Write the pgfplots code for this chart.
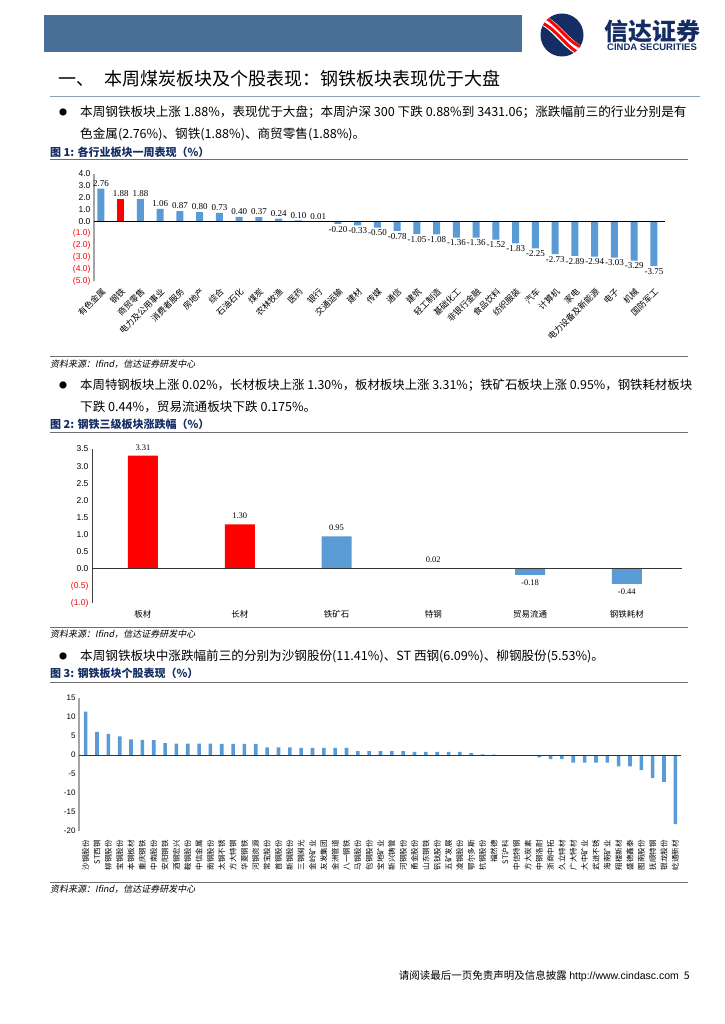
\documentclass[border=0pt]{standalone}
\usepackage{fontspec}
\usepackage{pgfplots}
\pgfplotsset{compat=1.18}
\setmainfont{Liberation Serif}
\newfontfamily\cjk{Noto Sans CJK SC}
\newfontfamily\cjki[FakeSlant=0.2]{Noto Sans CJK SC}
\newfontfamily\arial{Liberation Sans}
\definecolor{hdr}{RGB}{74,111,150}
\definecolor{barblue}{RGB}{91,155,213}
\definecolor{navy}{RGB}{20,45,100}
\definecolor{rulegray}{RGB}{110,110,110}
\definecolor{axgray}{RGB}{165,165,165}
\definecolor{hrule}{RGB}{140,160,185}
\newcommand{\fs}[1]{\fontsize{#1}{#1}\selectfont}
\pgfplotsset{
  pagechart/.style={
    scale only axis, clip=false, anchor=south west,
    axis y line*=left, axis x line*=bottom,
    x axis line style={draw=none},
    xtick style={draw=none}, ytick style={draw=none},
    ybar, bar shift=0pt,
    /pgf/number format/assume math mode=true,
  }
}
\begin{document}
\begin{tikzpicture}
\begin{scope}[x=1pt,y=-1pt]
\path[fill=white,use as bounding box] (0,0) rectangle (724,1024);
% header
\fill[hdr] (44,15) rectangle (522,52);
\fill[navy] (562,35) circle (21.5);
\begin{scope}
\clip (562,35) circle (21.5);
\draw[white, line width=10pt] (536,19) .. controls (555,19) and (568,53) .. (590,53);
\draw[red, line width=3pt] (536,15) .. controls (555,15) and (568,49) .. (590,49);
\draw[red, line width=3pt] (536,22) .. controls (555,22) and (568,56) .. (590,56);
\end{scope}
\node[anchor=center, text=navy, font=\cjk\fs{24}\bfseries] at (652,31) {信达证券};
\node[anchor=center, text=navy, font=\arial\fs{9.5}\bfseries] at (652,47) {CINDA SECURITIES};
% heading
\node[anchor=west, font=\cjk\fs{18}, inner sep=0pt] at (58,79) {一、\hspace{10pt}本周煤炭板块及个股表现：钢铁板块表现优于大盘};
\draw[hrule, line width=0.8pt] (50,96) -- (700,96);
% bullet 1
\node[font=\cjk\fs{8}] at (63,112) {●};
\node[anchor=west, inner sep=0pt, font=\cjk\fs{12.6}] at (80,112) {本周钢铁板块上涨 1.88\%，表现优于大盘；本周沪深 300 下跌 0.88\%到 3431.06；涨跌幅前三的行业分别是有};
\node[anchor=west, inner sep=0pt, font=\cjk\fs{12.6}] at (80,134) {色金属(2.76\%)、钢铁(1.88\%)、商贸零售(1.88\%)。};
% figure 1
\node[anchor=west, inner sep=0pt, text=navy, font=\cjk\fs{11}\bfseries] at (50,152) {图 1: 各行业板块一周表现（\%）};
\draw[rulegray, line width=1pt] (50,160) -- (688,160);
\draw[rulegray, line width=1pt] (50,356) -- (688,356);
\node[anchor=west, inner sep=0pt, font=\cjki\fs{9}] at (50,364) {资料来源：Ifind，信达证券研发中心};
% bullet 2
\node[font=\cjk\fs{8}] at (63,385) {●};
\node[anchor=west, inner sep=0pt, font=\cjk\fs{12.4}] at (80,385) {本周特钢板块上涨 0.02\%，长材板块上涨 1.30\%，板材板块上涨 3.31\%；铁矿石板块上涨 0.95\%，钢铁耗材板块};
\node[anchor=west, inner sep=0pt, font=\cjk\fs{12.6}] at (80,407) {下跌 0.44\%，贸易流通板块下跌 0.175\%。};
% figure 2
\node[anchor=west, inner sep=0pt, text=navy, font=\cjk\fs{11}\bfseries] at (50,424) {图 2: 钢铁三级板块涨跌幅（\%）};
\draw[rulegray, line width=1pt] (50,432) -- (688,432);
\draw[rulegray, line width=1pt] (50,627) -- (688,627);
\node[anchor=west, inner sep=0pt, font=\cjki\fs{9}] at (50,634) {资料来源：Ifind，信达证券研发中心};
% bullet 3
\node[font=\cjk\fs{8}] at (63,656) {●};
\node[anchor=west, inner sep=0pt, font=\cjk\fs{12.6}] at (80,656) {本周钢铁板块中涨跌幅前三的分别为沙钢股份(11.41\%)、ST 西钢(6.09\%)、柳钢股份(5.53\%)。};
% figure 3
\node[anchor=west, inner sep=0pt, text=navy, font=\cjk\fs{11}\bfseries] at (50,673) {图 3: 钢铁板块个股表现（\%）};
\draw[rulegray, line width=1pt] (50,682) -- (688,682);
\draw[rulegray, line width=1pt] (50,882) -- (688,882);
\node[anchor=west, inner sep=0pt, font=\cjki\fs{9}] at (50,889) {资料来源：Ifind，信达证券研发中心};
% footer
\node[anchor=east, inner sep=0pt, font=\cjk\fs{10.5}] at (690,976) {请阅读最后一页免责声明及信息披露 {\arial http://www.cindasc.com}\hspace{5pt}5};
\end{scope}

\begin{axis}[pagechart, at={(94pt,-281pt)}, width=571pt, height=107pt,
  xmin=-0.35, xmax=28.56, ymin=-5, ymax=4, bar width=7pt,
  y axis line style={-, draw=axgray, line width=1.2pt},
  ytick={-5,-4,-3,-2,-1,0,1,2,3,4},
  yticklabels={\textcolor{red}{(5.0)},\textcolor{red}{(4.0)},\textcolor{red}{(3.0)},\textcolor{red}{(2.0)},\textcolor{red}{(1.0)},0.0,1.0,2.0,3.0,4.0},
  yticklabel style={font=\arial\fs{8.5}},
  xtick={0,...,28},
  xticklabels={有色金属,钢铁,商贸零售,电力及公用事业,消费者服务,房地产,综合,石油石化,煤炭,农林牧渔,医药,银行,交通运输,建材,传媒,通信,建筑,轻工制造,基础化工,非银行金融,食品饮料,纺织服装,汽车,计算机,家电,电力设备及新能源,电子,机械,国防军工},
  xticklabel style={font=\cjk\fs{8.5}, rotate=45, anchor=north east, inner sep=1.5pt},
  nodes near coords={\pgfmathprintnumber[fixed,fixed zerofill,precision=2]{\pgfplotspointmeta}},
  nodes near coords style={font=\fs{9}, inner sep=2pt},
]
\addplot[fill=barblue, draw=none] coordinates {
(0,2.76) (2,1.88) (3,1.06) (4,0.87) (5,0.80) (6,0.73) (7,0.40) (8,0.37) (9,0.24) (10,0.10) (11,0.01)
(12,-0.20) (13,-0.33) (14,-0.50) (15,-0.78) (16,-1.05) (17,-1.08) (18,-1.36) (19,-1.36) (20,-1.52)
(21,-1.83) (22,-2.25) (23,-2.73) (24,-2.89) (25,-2.94) (26,-3.03) (27,-3.29) (28,-3.75)};
\addplot[fill=red, draw=none] coordinates {(1,1.88)};
\draw[black, line width=1pt] (axis cs:-0.35,0) -- (axis cs:28.56,0);
\end{axis}

\begin{axis}[pagechart, at={(92pt,-603pt)}, width=590pt, height=154pt,
  xmin=-0.527, xmax=5.57, ymin=-1, ymax=3.5, bar width=30pt,
  y axis line style={-, draw=black!75, line width=0.8pt},
  ytick={-1,-0.5,0,0.5,1,1.5,2,2.5,3,3.5},
  yticklabels={\textcolor{red}{(1.0)},\textcolor{red}{(0.5)},0.0,0.5,1.0,1.5,2.0,2.5,3.0,3.5},
  yticklabel style={font=\arial\fs{8.5}},
  xtick={0,...,5},
  xticklabels={板材,长材,铁矿石,特钢,贸易流通,钢铁耗材},
  xticklabel style={font=\cjk\fs{8.5}},
  nodes near coords={\pgfmathprintnumber[fixed,fixed zerofill,precision=2]{\pgfplotspointmeta}},
  nodes near coords style={font=\fs{8.5}, inner sep=5pt},
]
\addplot[fill=red, draw=none] coordinates {(0,3.31) (1,1.30) (3,0.02)};
\addplot[fill=barblue, draw=none] coordinates {(2,0.95) (4,-0.18) (5,-0.44)};
\draw[black!80, line width=0.9pt] (axis cs:-0.527,0) -- (axis cs:5.57,0);
\end{axis}

\begin{axis}[pagechart, at={(79pt,-831pt)}, width=602pt, height=133pt,
  xmin=-0.59, xmax=52.5, ymin=-20, ymax=15, bar width=3.6pt,
  y axis line style={-, draw=axgray, line width=1.4pt},
  ytick={-20,-15,-10,-5,0,5,10,15},
  yticklabels={-20,-15,-10,-5,0,5,10,15},
  yticklabel style={font=\arial\fs{8}},
  xtick={0,...,52},
  xticklabels={沙钢股份,ST西钢,柳钢股份,宝钢股份,本钢板材,重庆钢铁,中南股份,安阳钢铁,酒钢宏兴,鞍钢股份,中信金属,南钢股份,太钢不锈,方大特钢,华菱钢铁,河钢资源,常宝股份,首钢股份,新钢股份,三钢闽光,金岭矿业,友发集团,金洲管道,八一钢铁,马钢股份,包钢股份,宝地矿业,新兴铸管,河钢股份,甬金股份,山东钢铁,钒钛股份,五矿发展,凌钢股份,鄂尔多斯,杭钢股份,福然德,ST沪科,中信特钢,方大炭素,中钢洛耐,浙商中拓,久立特材,广大特材,大中矿业,武进不锈,海南矿业,翔楼新材,盛德鑫泰,图南股份,抚顺特钢,银龙股份,屹通新材},
  xticklabel style={font=\cjk\fs{7.5}, rotate=90, anchor=east, inner xsep=5pt, inner ysep=0.5pt},
]
\addplot[fill=barblue, draw=none] coordinates {
(0,11.41) (1,6.09) (2,5.53) (3,4.9) (4,4.1) (5,4.0) (6,3.9) (7,3.1) (8,3.0) (9,3.0) (10,3.0)
(11,3.0) (12,2.9) (13,2.9) (14,2.9) (15,2.9) (16,2.0) (17,2.0) (18,2.0) (19,1.9) (20,1.9)
(21,1.9) (22,1.9) (23,1.9) (24,1.0) (25,1.0) (26,1.0) (27,1.0) (28,1.0) (29,0.8) (30,0.8)
(31,0.8) (32,0.8) (33,0.8) (34,0.5) (35,0.2) (36,0.1) (37,0.0) (38,0.0) (39,-0.2) (40,-0.6)
(41,-1.1) (42,-1.1) (43,-2.0) (44,-2.0) (45,-2.0) (46,-2.0) (47,-3.0) (48,-3.0) (49,-4.0)
(50,-6.1) (51,-7.1) (52,-18.2)};
\draw[black!80, line width=0.9pt] (axis cs:-0.59,0) -- (axis cs:52.5,0);
\end{axis}
\end{tikzpicture}
\end{document}
